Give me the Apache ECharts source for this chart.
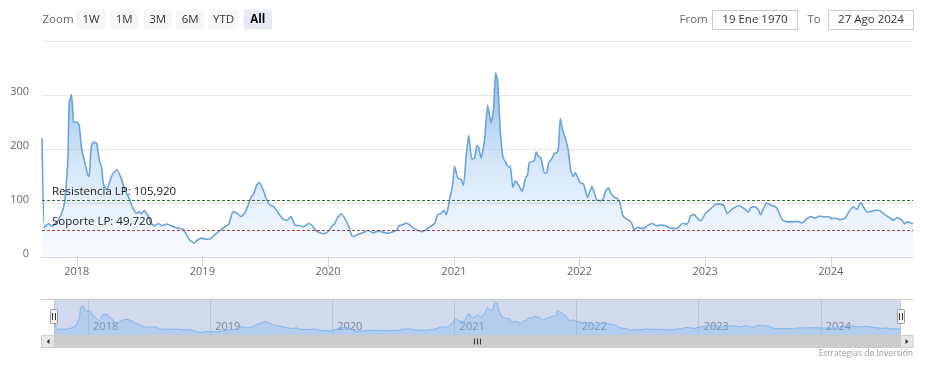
<!DOCTYPE html>
<html><head><meta charset="utf-8">
<script src="https://cdn.jsdelivr.net/npm/echarts@6/dist/echarts.min.js"></script>
<style>html,body{margin:0;padding:0;background:#fff}#c{width:933px;height:368px}</style>
</head><body><div id="c"></div>
<script>
const dates = [
'2017-09-22','2017-09-29','2017-10-11','2017-10-20','2017-11-04','2017-11-14','2017-11-26','2017-12-06','2017-12-10','2017-12-17','2017-12-23',
'2018-01-01','2018-01-08','2018-01-15','2018-01-25','2018-02-02','2018-02-06','2018-02-12','2018-02-18','2018-02-28','2018-03-07','2018-03-14','2018-03-19','2018-03-29','2018-04-05','2018-04-14','2018-04-27','2018-05-10','2018-05-21','2018-06-02','2018-06-11','2018-06-24','2018-07-01','2018-07-08','2018-07-16','2018-07-26','2018-08-05','2018-08-16','2018-08-26','2018-09-06','2018-09-19','2018-10-02','2018-10-13','2018-10-23','2018-11-06','2018-11-16','2018-11-26','2018-12-08','2018-12-17','2018-12-29',
'2019-01-13','2019-01-25','2019-02-06','2019-02-21','2019-03-07','2019-03-19','2019-03-31','2019-04-12','2019-04-23','2019-05-04','2019-05-14','2019-05-23','2019-05-29','2019-06-08','2019-06-15','2019-06-27','2019-07-07','2019-07-17','2019-07-28','2019-08-10','2019-08-24','2019-09-05','2019-09-15','2019-09-27','2019-10-12','2019-10-23','2019-11-05','2019-11-15','2019-11-27','2019-12-09','2019-12-20',
'2020-01-01','2020-01-11','2020-01-21','2020-01-28','2020-02-09','2020-02-22','2020-03-02','2020-03-09','2020-03-16','2020-03-28','2020-04-12','2020-04-27','2020-05-11','2020-05-26','2020-06-09','2020-06-24','2020-07-08','2020-07-18','2020-07-26','2020-08-06','2020-08-16','2020-08-26','2020-09-06','2020-09-19','2020-09-29','2020-10-11','2020-10-23','2020-11-06','2020-11-14','2020-11-26','2020-12-03','2020-12-10','2020-12-20','2020-12-28',
'2021-01-03','2021-01-12','2021-01-22','2021-01-29','2021-02-05','2021-02-13','2021-02-22','2021-03-02','2021-03-09','2021-03-14','2021-03-21','2021-03-31','2021-04-09','2021-04-19','2021-04-26','2021-05-02','2021-05-08','2021-05-15','2021-05-23','2021-06-02','2021-06-09','2021-06-14','2021-06-21','2021-06-29','2021-07-08','2021-07-18','2021-07-28','2021-08-03','2021-08-08','2021-08-18','2021-08-23','2021-08-28','2021-09-04','2021-09-11','2021-09-21','2021-09-28','2021-10-03','2021-10-13','2021-10-20','2021-10-27','2021-11-01','2021-11-06','2021-11-13','2021-11-21','2021-11-29','2021-12-07','2021-12-14','2021-12-20','2021-12-28',
'2022-01-05','2022-01-12','2022-01-18','2022-01-24','2022-01-31','2022-02-06','2022-02-14','2022-02-20','2022-03-04','2022-03-11','2022-03-19','2022-03-26','2022-04-03','2022-04-12','2022-04-21','2022-04-29','2022-05-06','2022-05-14','2022-05-25','2022-06-02','2022-06-09','2022-06-18','2022-06-28','2022-07-08','2022-07-17','2022-08-01','2022-08-12','2022-08-25','2022-09-07','2022-09-16','2022-09-28','2022-10-12','2022-10-27','2022-11-10','2022-11-20','2022-11-30','2022-12-09','2022-12-19',
'2023-01-03','2023-01-14','2023-01-27','2023-02-05','2023-02-15','2023-02-25','2023-03-06','2023-03-21','2023-04-09','2023-04-24','2023-05-06','2023-05-14','2023-05-26','2023-06-04','2023-06-11','2023-06-28','2023-07-15','2023-07-27','2023-08-03','2023-08-13','2023-08-28','2023-09-11','2023-09-26','2023-10-10','2023-10-20','2023-11-04','2023-11-16','2023-12-01','2023-12-15','2023-12-25',
'2024-01-03','2024-01-14','2024-01-29','2024-02-12','2024-02-23','2024-03-07','2024-03-17','2024-03-28','2024-04-05','2024-04-15','2024-04-30','2024-05-19','2024-06-02','2024-06-17','2024-07-02','2024-07-11','2024-07-24','2024-08-03','2024-08-09','2024-08-21','2024-08-27'
];
const values = [
220,54,62,57,65,75,99,180,285,301,250,
250,244,201,173,152,149,204,213,210,180,167,136,124,136,152,162,146,124,109,93,81,84,80,86,78,62,58,62,58,61,58,55,53,52,41,31,26,31,35,
33,34,41,49,56,61,84,81,75,81,96,112,115,133,138,124,106,96,93,81,70,68,75,59,58,56,62,59,49,45,43,
47,56,62,72,80,68,56,41,38,42,45,49,45,48,46,44,47,49,58,60,63,59,53,49,47,50,56,62,78,81,87,78,109,133,
168,146,143,133,183,226,181,183,207,203,183,217,281,248,272,341,328,241,186,173,167,168,129,141,133,121,146,152,175,177,179,195,186,183,155,156,173,183,192,193,204,257,235,220,198,158,149,156,145,
136,136,123,110,121,131,117,106,104,108,124,128,117,111,108,99,78,72,68,62,50,55,53,53,58,62,58,59,58,55,53,53,62,61,76,79,72,67,
82,87,96,98,98,95,80,89,95,90,83,92,93,88,78,100,95,92,83,69,65,65,66,63,69,75,72,76,74,75,
71,72,69,72,84,93,88,101,93,83,85,87,80,74,68,73,69,61,65,63,62
];
const yTickLabels = [0, 100, 200, 300];
const resistance = 105.92;
const support = 49.72;
const resistanceName = 'Resistencia LP';
const supportName = 'Soporte LP';
const rangeButtons = ['1W', '1M', '3M', '6M', 'YTD', 'All'];
const fromLabel = 'From', toLabel = 'To';
const fromText = '19 Ene 1970';
const toText = '27 Ago 2024';
const creditText = 'Estrategias de Inversión';

const FONT = '"Open Sans", "Liberation Sans", sans-serif';
const seriesData = dates.map((d, i) => [d, values[i]]);
const fmt = v => v.toFixed(3).replace('.', ',');
const YEAR = 24 * 3600 * 1000 * 365;

const chart = echarts.init(document.getElementById('c'), null, {renderer: 'canvas'});

const btnX = [76, 110, 143.5, 176, 208.5, 243.5];
const btnW = [30, 28.5, 28.5, 28.5, 30, 28.5];
const graphics = [];
graphics.push({type: 'text', x: 42.5, y: 19.5, style: {text: 'Zoom', fill: '#666', font: '11.5px ' + FONT, textAlign: 'left', textVerticalAlign: 'middle'}});
rangeButtons.forEach((b, i) => {
  const sel = b === 'All';
  graphics.push({type: 'rect', shape: {x: btnX[i], y: 9.5, width: btnW[i], height: 20, r: 2}, style: {fill: sel ? '#e6ebf5' : '#f7f7f7'}});
  graphics.push({type: 'text', x: btnX[i] + btnW[i] / 2, y: 19.5, style: {text: b, fill: sel ? '#000' : '#333', font: (sel ? 'bold ' : '') + '11.5px ' + FONT, textAlign: 'center', textVerticalAlign: 'middle'}});
});
graphics.push({type: 'text', x: 679.5, y: 19.5, style: {text: fromLabel, fill: '#666', font: '11.5px ' + FONT, textAlign: 'left', textVerticalAlign: 'middle'}});
graphics.push({type: 'rect', shape: {x: 712.5, y: 10.5, width: 85, height: 19}, style: {fill: '#fff', stroke: '#ccc', lineWidth: 1}});
graphics.push({type: 'text', x: 755, y: 19.5, style: {text: fromText, fill: '#333', font: '11.5px ' + FONT, textAlign: 'center', textVerticalAlign: 'middle'}});
graphics.push({type: 'text', x: 807.5, y: 19.5, style: {text: toLabel, fill: '#666', font: '11.5px ' + FONT, textAlign: 'left', textVerticalAlign: 'middle'}});
graphics.push({type: 'rect', shape: {x: 828.5, y: 10.5, width: 85, height: 19}, style: {fill: '#fff', stroke: '#ccc', lineWidth: 1}});
graphics.push({type: 'text', x: 871, y: 19.5, style: {text: toText, fill: '#333', font: '11.5px ' + FONT, textAlign: 'center', textVerticalAlign: 'middle'}});

graphics.push({type: 'rect', z: 3, shape: {x: 54.3, y: 299.5, width: 846.4, height: 35.5}, style: {fill: 'rgba(102,133,194,0.3)'}});
graphics.push({type: 'line', z: 4, shape: {x1: 41, y1: 299.5, x2: 913, y2: 299.5}, style: {stroke: '#ccc', lineWidth: 1}});
graphics.push({type: 'rect', z: 4, shape: {x: 41, y: 335, width: 872, height: 13}, style: {fill: '#f2f2f2'}});
graphics.push({type: 'rect', z: 5, shape: {x: 54.3, y: 335, width: 846.4, height: 13}, style: {fill: '#cccccc'}});
graphics.push({type: 'rect', z: 5, shape: {x: 41.5, y: 335.5, width: 12.8, height: 12}, style: {fill: '#e6e6e6', stroke: '#cccccc', lineWidth: 1}});
graphics.push({type: 'rect', z: 5, shape: {x: 900.7, y: 335.5, width: 12.3, height: 12}, style: {fill: '#e6e6e6', stroke: '#cccccc', lineWidth: 1}});
graphics.push({type: 'polygon', z: 6, shape: {points: [[49.5, 339], [49.5, 344], [46.5, 341.5]]}, style: {fill: '#333'}});
graphics.push({type: 'polygon', z: 6, shape: {points: [[905.5, 339], [905.5, 344], [908.5, 341.5]]}, style: {fill: '#333'}});
[474.5, 477.5, 480.5].forEach(x => graphics.push({type: 'line', z: 6, shape: {x1: x, y1: 338.5, x2: x, y2: 344.5}, style: {stroke: '#333', lineWidth: 1}}));
[54.3, 900.7].forEach(cx => {
  graphics.push({type: 'rect', z: 7, shape: {x: Math.round(cx) - 3.5, y: 309.5, width: 7, height: 14, r: 1}, style: {fill: '#f2f2f2', stroke: '#999', lineWidth: 1}});
  graphics.push({type: 'line', z: 8, shape: {x1: Math.round(cx) - 1.5, y1: 313, x2: Math.round(cx) - 1.5, y2: 320}, style: {stroke: '#333', lineWidth: 1}});
  graphics.push({type: 'line', z: 8, shape: {x1: Math.round(cx) + 1.5, y1: 313, x2: Math.round(cx) + 1.5, y2: 320}, style: {stroke: '#333', lineWidth: 1}});
});
graphics.push({type: 'text', x: 913, y: 354, style: {text: creditText, fill: '#999', font: '8.5px ' + FONT, textAlign: 'right', textVerticalAlign: 'middle'}});

const option = {
  animation: false,
  backgroundColor: '#fff',
  textStyle: {fontFamily: FONT},
  grid: [
    {left: 42, right: 20, top: 41, bottom: 111},
    {left: 54.3, right: 32.3, top: 299.5, bottom: 33}
  ],
  xAxis: [
    {type: 'time', gridIndex: 0, min: dates[0], max: dates[dates.length - 1],
     minInterval: YEAR, maxInterval: YEAR + 24 * 3600 * 1000,
     axisLine: {lineStyle: {color: '#ccd6eb'}},
     axisTick: {show: true, length: 10, lineStyle: {color: '#ccd6eb'}},
     axisLabel: {formatter: '{yyyy}', color: '#666', fontSize: 11, margin: 9, fontFamily: FONT, showMinLabel: false, showMaxLabel: false},
     splitLine: {show: false}},
    {type: 'time', gridIndex: 1, min: dates[0], max: dates[dates.length - 1],
     minInterval: YEAR, maxInterval: YEAR + 24 * 3600 * 1000,
     axisLine: {show: false}, axisTick: {show: false},
     axisLabel: {inside: true, formatter: '{yyyy}', color: '#8a8a8a', fontSize: 11, margin: 3, align: 'left', padding: [0, 0, 0, 5], fontFamily: FONT, showMinLabel: false, showMaxLabel: false},
     splitLine: {show: true, lineStyle: {color: '#e0e0e0'}}}
  ],
  yAxis: [
    {type: 'value', gridIndex: 0, min: 0, max: 400, interval: 100,
     axisLine: {show: false}, axisTick: {show: false},
     axisLabel: {color: '#666', fontSize: 11, margin: 13, verticalAlign: 'bottom', padding: [0, 0, -2, 0], fontFamily: FONT,
       formatter: v => yTickLabels.includes(v) ? String(v) : ''},
     splitLine: {lineStyle: {color: '#e6e6e6'}}},
    {type: 'value', gridIndex: 1, min: 0, max: 366, show: false}
  ],
  series: [
    {type: 'line', xAxisIndex: 0, yAxisIndex: 0, data: seriesData, showSymbol: false, smooth: 0.15,
     lineStyle: {color: '#6aa3db', width: 1.6},
     areaStyle: {color: new echarts.graphic.LinearGradient(0, 0, 0, 1, [
       {offset: 0, color: 'rgba(98,156,220,1)'},
       {offset: 0.5, color: 'rgba(124,181,236,0.45)'},
       {offset: 1, color: 'rgba(124,181,236,0.06)'}])},
     markLine: {silent: true, symbol: ['none', 'none'], animation: false,
       data: [
         {yAxis: resistance, lineStyle: {color: '#3b6e3b', type: [3, 2], width: 1},
          label: {show: true, position: 'insideStartTop', distance: [10, 2], formatter: resistanceName + ': ' + fmt(resistance), color: '#1a1a1a', fontSize: 11.5, fontFamily: FONT}},
         {yAxis: support, lineStyle: {color: '#a54040', type: [3, 2], width: 1},
          label: {show: true, position: 'insideStartTop', distance: [10, 2], formatter: supportName + ': ' + fmt(support), color: '#1a1a1a', fontSize: 11.5, fontFamily: FONT}}
       ]}},
    {type: 'line', xAxisIndex: 1, yAxisIndex: 1, data: seriesData, showSymbol: false, smooth: 0.15,
     lineStyle: {color: '#7cb5ec', width: 1},
     areaStyle: {color: 'rgba(124,181,236,0.45)'}}
  ],
  graphic: {elements: graphics}
};
chart.setOption(option);
</script>
</body></html>
